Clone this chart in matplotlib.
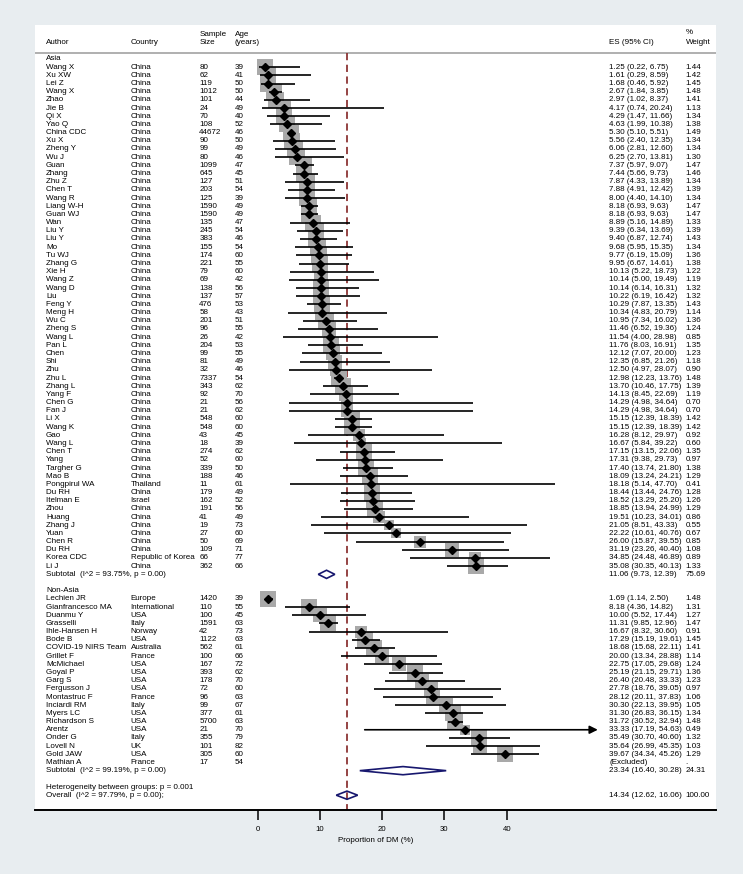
import numpy as np
import matplotlib
matplotlib.use('Agg')
import matplotlib.pyplot as plt
from matplotlib.transforms import blended_transform_factory

BG_COLOR = '#e8edf0'
SQUARE_GRAY = '#a9a9a9'
NAVY = '#17176e'
REF_RED = '#8c3535'
FS = 5.8
plt.rcParams['font.family'] = ['Liberation Sans', 'DejaVu Sans']

# Asia studies
asia_authors = ['Wang X', 'Xu XW', 'Lei Z', 'Wang X', 'Zhao', 'Jie B', 'Qi X', 'Yao Q', 'China CDC',
                'Xu X', 'Zheng Y', 'Wu J', 'Guan', 'Zhang', 'Zhu Z', 'Chen T', 'Wang R', 'Liang W-H',
                'Guan WJ', 'Wan', 'Liu Y', 'Liu Y', 'Mo', 'Tu WJ', 'Zhang G', 'Xie H', 'Wang Z',
                'Wang D', 'Liu', 'Feng Y', 'Meng H', 'Wu C', 'Zheng S', 'Wang L', 'Pan L', 'Chen',
                'Shi', 'Zhu', 'Zhu L', 'Zhang L', 'Yang F', 'Chen G', 'Fan J', 'Li X', 'Wang K',
                'Gao', 'Wang L', 'Chen T', 'Yang', 'Targher G', 'Mao B', 'Pongpirul WA', 'Du RH',
                'Itelman E', 'Zhou', 'Huang', 'Zhang J', 'Yuan', 'Chen R', 'Du RH', 'Korea CDC', 'Li J']
asia_countries = ['China'] * 51 + ['Thailand', 'China', 'Israel'] + ['China'] * 6 + ['Republic of Korea', 'China']
asia_sizes = [80, 62, 119, 1012, 101, 24, 70, 108, 44672, 90, 99, 80, 1099, 645, 127, 203, 125, 1590,
              1590, 135, 245, 383, 155, 174, 221, 79, 69, 138, 137, 476, 58, 201, 96, 26, 204, 99,
              81, 32, 7337, 343, 92, 21, 21, 548, 548, 43, 18, 274, 52, 339, 188, 11, 179,
              162, 191, 41, 19, 27, 50, 109, 66, 362]
asia_ages = [39, 41, 50, 50, 44, 49, 40, 52, 46, 50, 49, 46, 47, 45, 51, 54, 39, 49,
             49, 47, 54, 46, 54, 60, 55, 60, 42, 56, 57, 53, 43, 51, 55, 42, 53, 55,
             49, 46, 54, 62, 70, 56, 62, 60, 60, 45, 39, 62, 60, 50, 46, 61, 49,
             52, 56, 49, 73, 60, 69, 71, 77, 66]
asia_es = [1.25, 1.61, 1.68, 2.67, 2.97, 4.17, 4.29, 4.63, 5.30, 5.56, 6.06, 6.25, 7.37, 7.44, 7.87,
           7.88, 8.00, 8.18, 8.18, 8.89, 9.39, 9.40, 9.68, 9.77, 9.95, 10.13, 10.14, 10.14, 10.22,
           10.29, 10.34, 10.95, 11.46, 11.54, 11.76, 12.12, 12.35, 12.50, 12.98, 13.70, 14.13, 14.29,
           14.29, 15.15, 15.15, 16.28, 16.67, 17.15, 17.31, 17.40, 18.09, 18.18, 18.44, 18.52, 18.85,
           19.51, 21.05, 22.22, 26.00, 31.19, 34.85, 35.08]
asia_lo = [0.22, 0.29, 0.46, 1.84, 1.02, 0.74, 1.47, 1.99, 5.10, 2.40, 2.81, 2.70, 5.97, 5.66, 4.33,
           4.91, 4.40, 6.93, 6.93, 5.16, 6.34, 6.87, 5.95, 6.19, 6.67, 5.22, 5.00, 6.14, 6.19,
           7.87, 4.83, 7.34, 6.52, 4.00, 8.03, 7.07, 6.85, 4.97, 12.23, 10.46, 8.45, 4.98,
           4.98, 12.39, 12.39, 8.12, 5.84, 13.15, 9.38, 13.74, 13.24, 5.14, 13.44, 13.29, 13.94,
           10.23, 8.51, 10.61, 15.87, 23.26, 24.48, 30.35]
asia_hi = [6.75, 8.59, 5.92, 3.85, 8.37, 20.24, 11.66, 10.38, 5.51, 12.35, 12.60, 13.81, 9.07, 9.73, 13.89,
           12.42, 14.10, 9.63, 9.63, 14.89, 13.69, 12.74, 15.35, 15.09, 14.61, 18.73, 19.49, 16.31, 16.42,
           13.35, 20.79, 16.02, 19.36, 28.98, 16.91, 20.00, 21.26, 28.07, 13.76, 17.75, 22.69, 34.64,
           34.64, 18.39, 18.39, 29.97, 39.22, 22.06, 29.73, 21.80, 24.21, 47.70, 24.76, 25.20, 24.99,
           34.01, 43.33, 40.76, 39.55, 40.40, 46.89, 40.13]
asia_wt = [1.44, 1.42, 1.45, 1.48, 1.41, 1.13, 1.34, 1.38, 1.49, 1.34, 1.34, 1.30, 1.47, 1.46, 1.34,
           1.39, 1.34, 1.47, 1.47, 1.33, 1.39, 1.43, 1.34, 1.36, 1.38, 1.22, 1.19, 1.32, 1.32,
           1.43, 1.14, 1.36, 1.24, 0.85, 1.35, 1.23, 1.18, 0.90, 1.48, 1.39, 1.19, 0.70,
           0.70, 1.42, 1.42, 0.92, 0.60, 1.35, 0.97, 1.38, 1.29, 0.41, 1.28, 1.26, 1.29,
           0.86, 0.55, 0.67, 0.85, 1.08, 0.89, 1.33]
asia_sub = (11.06, 9.73, 12.39, 75.69)
asia_sub_label = 'Subtotal  (I^2 = 93.75%, p = 0.00)'

# Non-Asia studies (Mathian A excluded)
nonasia_authors = ['Lechien JR', 'Gianfrancesco MA', 'Duanmu Y', 'Grasselli', 'Ihle-Hansen H', 'Bode B',
                   'COVID-19 NIRS Team', 'Grillet F', 'McMichael', 'Goyal P', 'Garg S', 'Fergusson J',
                   'Montastruc F', 'Inciardi RM', 'Myers LC', 'Richardson S', 'Arentz', 'Onder G',
                   'Lovell N', 'Gold JAW', 'Mathian A']
nonasia_countries = ['Europe', 'International', 'USA', 'Italy', 'Norway', 'USA', 'Australia', 'France',
                     'USA', 'USA', 'USA', 'USA', 'France', 'Italy', 'USA', 'USA', 'USA', 'Italy',
                     'UK', 'USA', 'France']
nonasia_sizes = [1420, 110, 100, 1591, 42, 1122, 562, 100, 167, 393, 178, 72, 96, 99, 377, 5700, 21,
                 355, 101, 305, 17]
nonasia_ages = [39, 55, 45, 63, 73, 63, 61, 66, 72, 62, 70, 60, 63, 67, 61, 63, 70, 79, 82, 60, 54]
nonasia_es = [1.69, 8.18, 10.00, 11.31, 16.67, 17.29, 18.68, 20.00, 22.75, 25.19, 26.40, 27.78,
              28.12, 30.30, 31.30, 31.72, 33.33, 35.49, 35.64, 39.67, None]
nonasia_lo = [1.14, 4.36, 5.52, 9.85, 8.32, 15.19, 15.68, 13.34, 17.05, 21.15, 20.48, 18.76,
              20.11, 22.13, 26.83, 30.52, 17.19, 30.70, 26.99, 34.34, None]
nonasia_hi = [2.50, 14.82, 17.44, 12.96, 30.60, 19.61, 22.11, 28.88, 29.68, 29.71, 33.33, 39.05,
              37.83, 39.95, 36.15, 32.94, 54.63, 40.60, 45.35, 45.26, None]
nonasia_wt = [1.48, 1.31, 1.27, 1.47, 0.91, 1.45, 1.41, 1.14, 1.24, 1.36, 1.23, 0.97,
              1.06, 1.05, 1.34, 1.48, 0.49, 1.32, 1.03, 1.29, None]
nonasia_sub = (23.34, 16.40, 30.28, 24.31)
nonasia_sub_label = 'Subtotal  (I^2 = 99.19%, p = 0.00)'

overall = (14.34, 12.62, 16.06, 100.00)
overall_label = 'Overall  (I^2 = 97.79%, p = 0.00);'
het_label = 'Heterogeneity between groups: p = 0.001'
x_ticks = [0, 10, 20, 30, 40]

# layout (figure pixels)
W, H = 743, 874
PANEL_L, PANEL_R, PANEL_T, PANEL_B = 35, 716, 25, 810
ZERO_PX, PX_PER_UNIT = 257.7, 6.225
ROW0_PX, ROW_PX = 59, 8.18
COL_AUTHOR, COL_COUNTRY, COL_SIZE, COL_AGE, COL_ES, COL_WT = 46, 130.7, 199.3, 234.7, 609, 685.7

fig = plt.figure(figsize=(W / 100, H / 100), dpi=100, facecolor=BG_COLOR)
ax = fig.add_axes([PANEL_L / W, (H - PANEL_B) / H, (PANEL_R - PANEL_L) / W, (PANEL_B - PANEL_T) / H])
ax.set_facecolor('white')
ax.set_xlim((PANEL_L - ZERO_PX) / PX_PER_UNIT, (PANEL_R - ZERO_PX) / PX_PER_UNIT)
ax.set_ylim((PANEL_B - ROW0_PX) / ROW_PX, (PANEL_T - ROW0_PX) / ROW_PX)
trans = blended_transform_factory(fig.transFigure, ax.transData)


def row_of(px):
    return (px - ROW0_PX) / ROW_PX


def tx(px, row, text):
    ax.text(px / W, row, text, transform=trans, fontsize=FS, va='center', ha='left')


# headers
tx(COL_AUTHOR, row_of(42.5), 'Author')
tx(COL_COUNTRY, row_of(42.5), 'Country')
tx(COL_SIZE, row_of(34.3), 'Sample')
tx(COL_SIZE, row_of(42.7), 'Size')
tx(COL_AGE, row_of(34.3), 'Age')
tx(COL_AGE, row_of(42.7), '(years)')
tx(COL_ES, row_of(42), 'ES (95% CI)')
tx(COL_WT, row_of(32.5), '%')
tx(COL_WT, row_of(42), 'Weight')
ax.axhline(row_of(53), color='#9a9a9a', lw=1.1, zorder=1)


def draw_group(first_row, authors, countries, sizes, ages, es, lo, hi, wt):
    for i, (a, c, n, age, e, l, h, w) in enumerate(zip(authors, countries, sizes, ages, es, lo, hi, wt)):
        r = first_row + i
        tx(COL_AUTHOR, r, a)
        tx(COL_COUNTRY, r, c)
        tx(COL_SIZE, r, str(n))
        tx(COL_AGE, r, str(age))
        if e is None:
            tx(COL_ES, r, '(Excluded)')
            tx(COL_WT, r, '.')
            continue
        tx(COL_ES, r, f'{e:.2f} ({l:.2f}, {h:.2f})')
        tx(COL_WT, r, f'{w:.2f}')
        side_pt = 13.3 * np.sqrt(w) * 0.72
        ax.scatter([e], [r], marker='s', s=side_pt ** 2, color=SQUARE_GRAY, lw=0, zorder=2)
        if h > 50:
            ax.annotate('', xy=(h, r), xytext=(l, r),
                        arrowprops=dict(arrowstyle='-|>', color='black', lw=1.2, mutation_scale=12,
                                        shrinkA=0, shrinkB=0), zorder=3)
        else:
            ax.plot([l, h], [r, r], color='black', lw=1.2, solid_capstyle='butt', zorder=3)
        ax.plot(e, r, marker='D', ms=3.7, color='black', zorder=4)


def draw_diamond(row, est):
    e, l, h, w = est
    ax.fill([l, e, h, e], [row, row - 0.5, row, row + 0.5], facecolor='none', edgecolor=NAVY, lw=1.2, zorder=4)
    tx(COL_ES, row, f'{e:.2f} ({l:.2f}, {h:.2f})')
    tx(COL_WT, row, f'{w:.2f}')


# Asia
tx(COL_AUTHOR, 0, 'Asia')
draw_group(1, asia_authors, asia_countries, asia_sizes, asia_ages, asia_es, asia_lo, asia_hi, asia_wt)
r_sub1 = len(asia_authors) + 1
tx(COL_AUTHOR, r_sub1, asia_sub_label)
draw_diamond(r_sub1, asia_sub)

# Non-Asia
r_na = r_sub1 + 2
tx(COL_AUTHOR, r_na, 'Non-Asia')
draw_group(r_na + 1, nonasia_authors, nonasia_countries, nonasia_sizes, nonasia_ages,
           nonasia_es, nonasia_lo, nonasia_hi, nonasia_wt)
r_sub2 = r_na + len(nonasia_authors) + 1
tx(COL_AUTHOR, r_sub2, nonasia_sub_label)
draw_diamond(r_sub2, nonasia_sub)

# overall
tx(COL_AUTHOR, r_sub2 + 2, het_label)
r_all = r_sub2 + 3
tx(COL_AUTHOR, r_all, overall_label)
draw_diamond(r_all, overall)

# reference line at overall estimate
ax.plot([overall[0]] * 2, [row_of(53), ax.get_ylim()[0]], color=REF_RED, lw=1.3,
        linestyle=(0, (4, 2.5)), zorder=1)

# axis
for s in ['top', 'left', 'right']:
    ax.spines[s].set_visible(False)
ax.spines['bottom'].set_linewidth(1.4)
ax.set_yticks([])
ax.set_xticks(x_ticks)
ax.tick_params(axis='x', direction='out', length=7.2, width=1.1, labelsize=FS - 0.2, pad=4.5)
ax.set_xlabel('Proportion of DM (%)', fontsize=FS, labelpad=3)

fig.savefig('out.png', dpi=100, facecolor=BG_COLOR)
